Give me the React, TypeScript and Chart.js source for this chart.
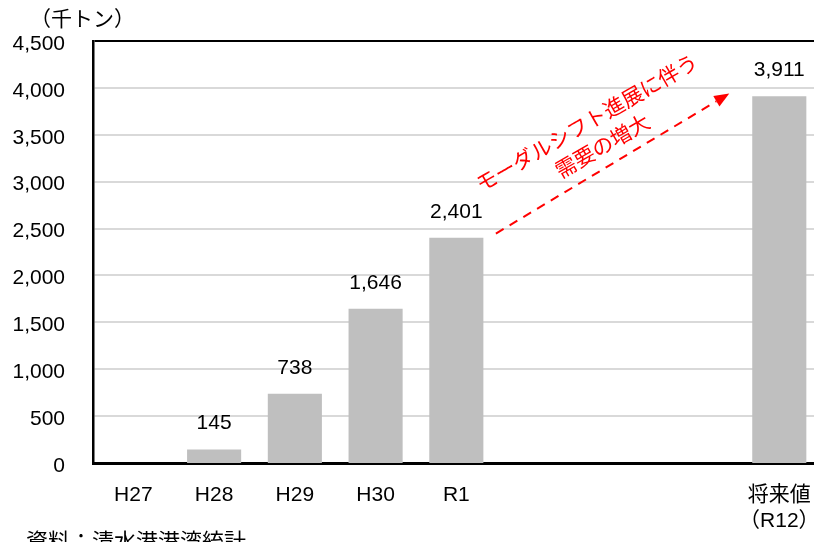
import React, { useEffect, useRef } from "react";
import { Chart, registerables } from "chart.js";

Chart.register(...registerables);

const categories: (string | string[])[] = ["H27", "H28", "H29", "H30", "R1", "", "", "", ["将来値", "（R12）"]];
const values: (number | null)[] = [null, 145, 738, 1646, 2401, null, null, null, 3911];
const yMax = 4500;
const yStep = 500;
const unitLabel = "（千トン）";
const sourceNote = "資料：清水港港湾統計";
const noteLines = ["モーダルシフト進展に伴う", "需要の増大"];

const FONT = '"Liberation Sans", Arial, "Noto Sans CJK JP", sans-serif';
const JFONT = '"Noto Sans CJK JP", "Liberation Sans", sans-serif';

const overlayPlugin = {
  id: "overlay",
  afterDatasetsDraw(chart: any) {
    const ctx = chart.ctx as CanvasRenderingContext2D;
    const xs = chart.scales.x;
    const ys = chart.scales.y;
    ctx.save();
    // value labels
    const meta = chart.getDatasetMeta(0);
    ctx.font = `21px ${FONT}`;
    ctx.fillStyle = "#000";
    ctx.textAlign = "center";
    ctx.textBaseline = "alphabetic";
    meta.data.forEach((bar: any, i: number) => {
      const v = values[i];
      if (v == null) return;
      ctx.fillText(v.toLocaleString("en-US"), bar.x, bar.y - 20);
    });

    // unit label
    ctx.textAlign = "left";
    ctx.textBaseline = "middle";
    ctx.font = `21px ${JFONT}`;
    ctx.fillText(unitLabel, 30, 18);

    // source note
    ctx.font = `22px ${JFONT}`;
    ctx.textBaseline = "top";
    ctx.fillText(sourceNote, 26, 530);

    // dashed arrow
    const x1 = xs.getPixelForValue(4.49);
    const y1 = ys.getPixelForValue(2447);
    const x2 = xs.getPixelForValue(7.38);
    const y2 = ys.getPixelForValue(3940);
    const ang = Math.atan2(y2 - y1, x2 - x1);
    const headLen = 15;
    const hx = x2 - headLen * Math.cos(ang);
    const hy = y2 - headLen * Math.sin(ang);
    ctx.strokeStyle = "#ff0000";
    ctx.fillStyle = "#ff0000";
    ctx.lineWidth = 2;
    ctx.setLineDash([9, 7]);
    ctx.beginPath();
    ctx.moveTo(x1, y1);
    ctx.lineTo(hx, hy);
    ctx.stroke();
    ctx.setLineDash([]);
    ctx.beginPath();
    ctx.moveTo(x2, y2);
    ctx.lineTo(hx + 6 * Math.sin(ang), hy - 6 * Math.cos(ang));
    ctx.lineTo(hx - 6 * Math.sin(ang), hy + 6 * Math.cos(ang));
    ctx.closePath();
    ctx.fill();

    // rotated note text
    const cx = xs.getPixelForValue(5.7);
    const cy = ys.getPixelForValue(3500);
    ctx.translate(cx, cy);
    ctx.rotate(-30 * Math.PI / 180);
    ctx.font = `21px ${JFONT}`;
    ctx.textAlign = "center";
    ctx.textBaseline = "middle";
    ctx.fillText(noteLines[0], 0, -14);
    ctx.fillText(noteLines[1], 2, 14);
    ctx.restore();
  },
};

export default function App() {
  const ref = useRef<HTMLCanvasElement | null>(null);
  useEffect(() => {
    if (!ref.current) return;
    const chart = new Chart(ref.current, {
      type: "bar",
      data: {
        labels: categories,
        datasets: [
          {
            data: values,
            backgroundColor: "#bfbfbf",
            borderWidth: 0,
            categoryPercentage: 1,
            barPercentage: 0.67,
          },
        ],
      },
      options: {
        animation: false,
        responsive: false,
        devicePixelRatio: 1,
        layout: { padding: { top: 41, left: 0, right: 8, bottom: 0 } },
        plugins: { legend: { display: false }, tooltip: { enabled: false } },
        scales: {
          x: {
            grid: { display: false, drawTicks: false },
            border: { display: true, color: "#000", width: 3 },
            ticks: {
              color: "#000",
              font: { size: 21, family: FONT },
              padding: 20,
              maxRotation: 0,
              autoSkip: false,
            },
            afterFit: (s: any) => {
              s.height = 79;
            },
          },
          y: {
            min: 0,
            max: yMax,
            grid: {
              color: (c: any) => (c.tick && c.tick.value === yMax ? "#000" : "#d9d9d9"),
              lineWidth: (c: any) => (c.tick && c.tick.value === 0 ? 0 : 2),
              drawTicks: false,
            },
            border: { display: true, color: "#000", width: 2.5 },
            ticks: {
              stepSize: yStep,
              color: "#000",
              font: { size: 21, family: FONT },
              padding: 28,
              labelOffset: 3,
              callback: (v: any) => Number(v).toLocaleString("en-US"),
            },
            afterFit: (s: any) => {
              s.width = 93;
            },
          },
        },
      },
      plugins: [overlayPlugin],
    });
    return () => chart.destroy();
  }, []);
  return (
    <div style={{ position: "fixed", left: 0, top: 0, width: 814, height: 542, overflow: "hidden", background: "#fff" }}>
      <canvas ref={ref} width={840} height={542} style={{ display: "block" }} />
    </div>
  );
}
